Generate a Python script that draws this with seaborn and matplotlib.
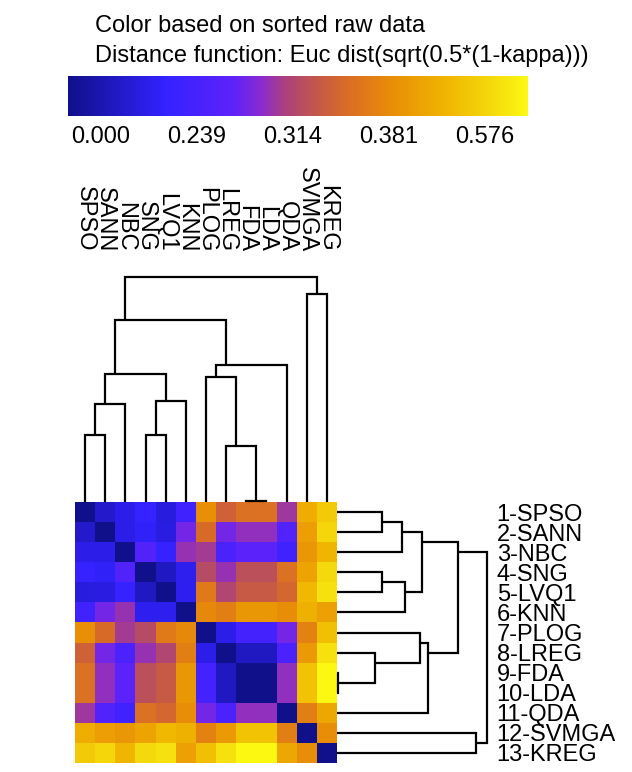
import numpy as np
import pandas as pd
import matplotlib
matplotlib.use("Agg")
import matplotlib.pyplot as plt
import seaborn as sns
from matplotlib.colors import LinearSegmentedColormap, FuncNorm, Normalize
from matplotlib.cm import ScalarMappable

# ---------------- data ----------------
models = ["SPSO", "SANN", "NBC", "SNG", "LVQ1", "KNN", "PLOG", "LREG",
          "FDA", "LDA", "QDA", "SVMGA", "KREG"]
row_labels = [f"{i + 1}-{m}" for i, m in enumerate(models)]

dist_spso = [0.000, 0.115, 0.163, 0.210, 0.143, 0.239, 0.370, 0.333, 0.346, 0.346, 0.299, 0.420, 0.482]
dist_sann = [0.115, 0.000, 0.163, 0.191, 0.153, 0.281, 0.341, 0.281, 0.293, 0.293, 0.260, 0.381, 0.506]
dist_nbc = [0.163, 0.163, 0.000, 0.260, 0.210, 0.296, 0.302, 0.254, 0.269, 0.269, 0.239, 0.376, 0.436]
dist_sng = [0.210, 0.191, 0.260, 0.000, 0.096, 0.172, 0.314, 0.296, 0.319, 0.319, 0.346, 0.397, 0.514]
dist_lvq1 = [0.143, 0.153, 0.210, 0.096, 0.000, 0.172, 0.352, 0.311, 0.327, 0.327, 0.338, 0.443, 0.529]
dist_knn = [0.239, 0.281, 0.296, 0.172, 0.172, 0.000, 0.365, 0.357, 0.376, 0.376, 0.368, 0.428, 0.389]
dist_plog = [0.370, 0.341, 0.302, 0.314, 0.352, 0.365, 0.000, 0.163, 0.245, 0.245, 0.281, 0.360, 0.459]
dist_lreg = [0.333, 0.281, 0.254, 0.296, 0.311, 0.357, 0.163, 0.000, 0.096, 0.096, 0.254, 0.378, 0.529]
dist_fda = [0.346, 0.293, 0.269, 0.319, 0.327, 0.376, 0.245, 0.096, 0.000, 0.000, 0.293, 0.467, 0.576]
dist_lda = [0.346, 0.293, 0.269, 0.319, 0.327, 0.376, 0.245, 0.096, 0.000, 0.000, 0.293, 0.467, 0.576]
dist_qda = [0.299, 0.260, 0.239, 0.346, 0.338, 0.368, 0.281, 0.254, 0.293, 0.293, 0.000, 0.357, 0.404]
dist_svmga = [0.420, 0.381, 0.376, 0.397, 0.443, 0.428, 0.360, 0.378, 0.467, 0.467, 0.357, 0.000, 0.368]
dist_kreg = [0.482, 0.506, 0.436, 0.514, 0.529, 0.389, 0.459, 0.529, 0.576, 0.576, 0.404, 0.368, 0.000]

# quantiles of the sorted raw data (colour scale is rank based)
cbar_values = [0.000, 0.239, 0.314, 0.381, 0.576]
cbar_labels = ["0.000", "0.239", "0.314", "0.381", "0.576"]

# hierarchical clustering merges: (child_a, child_b, height)
# indices < 13 are leaves, index 13 + k is the k-th merge
merges = [
    (8, 9, 0.005),    # 13 FDA + LDA
    (0, 1, 0.300),    # 14 SPSO + SANN
    (3, 4, 0.300),    # 15 SNG + LVQ1
    (7, 13, 0.250),   # 16 LREG + (FDA, LDA)
    (14, 2, 0.435),   # 17 + NBC
    (15, 5, 0.450),   # 18 + KNN
    (6, 16, 0.555),   # 19 PLOG + ...
    (17, 18, 0.570),  # 20
    (19, 10, 0.610),  # 21 + QDA
    (20, 21, 0.810),  # 22
    (11, 12, 0.925),  # 23 SVMGA + KREG
    (22, 23, 1.000),  # 24 root
]

title_lines = ["Color based on sorted raw data",
               "Distance function: Euc dist(sqrt(0.5*(1-kappa)))"]

# ---------------- style ----------------
W, H = 632, 772
sns.set_theme(style="white", rc={"text.color": "black", "xtick.color": "black",
                                 "ytick.color": "black", "axes.labelcolor": "black"})
plt.rcParams["font.family"] = ["Liberation Sans", "DejaVu Sans"]
FS = 17

fig = plt.figure(figsize=(W / 100, H / 100), dpi=100)
fig.patch.set_facecolor("white")


def box(l, t, r, b):
    return [l / W, 1 - b / H, (r - l) / W, (b - t) / H]


cmap = LinearSegmentedColormap.from_list("kappa", [
    (0.00, "#10108a"),
    (0.21, "#3322ff"),
    (0.36, "#5e22fa"),
    (0.42, "#8a2ad0"),
    (0.47, "#aa4080"),
    (0.53, "#c05450"),
    (0.60, "#d86a28"),
    (0.70, "#e88c08"),
    (0.82, "#f0b400"),
    (0.92, "#f4d80c"),
    (1.00, "#fcf812"),
])

ranks = [0.0, 0.25, 0.5, 0.75, 1.0]
norm = FuncNorm((lambda v: np.interp(v, cbar_values, ranks),
                 lambda t: np.interp(t, ranks, cbar_values)),
                vmin=cbar_values[0], vmax=cbar_values[-1])

# ---------------- heatmap ----------------
dist = [dist_spso, dist_sann, dist_nbc, dist_sng, dist_lvq1, dist_knn, dist_plog,
        dist_lreg, dist_fda, dist_lda, dist_qda, dist_svmga, dist_kreg]
df = pd.DataFrame(dist, index=row_labels, columns=models)

ax_hm = fig.add_axes(box(75, 502, 337, 763))
sns.heatmap(df, ax=ax_hm, cmap=cmap, norm=norm, cbar=False,
            xticklabels=False, yticklabels=False)
ax_hm.set_xlabel("")
ax_hm.set_ylabel("")

# ---------------- dendrograms ----------------
n = len(models)
pos = {i: i + 0.5 for i in range(n)}
hgt = {i: 0.0 for i in range(n)}
segments = []
for k, (a, b, h) in enumerate(merges):
    node = n + k
    pa, pb = pos[a], pos[b]
    segments.append(([pa, pa, pb, pb], [hgt[a], h, h, hgt[b]]))
    pos[node] = min(pa, pb) + 0.5
    hgt[node] = h

LW = 1.6
ax_td = fig.add_axes(box(75, 277, 337, 502))
for xs, ys in segments:
    ax_td.plot(xs, ys, color="black", lw=LW, clip_on=False,
               solid_joinstyle="miter", solid_capstyle="butt")
ax_td.set_xlim(0, n)
ax_td.set_ylim(0, 1)
ax_td.xaxis.tick_top()
ax_td.set_xticks(np.arange(n) + 0.5)
ax_td.set_xticklabels(models, rotation=270, fontsize=FS, color="black")
ax_td.tick_params(axis="x", length=0, pad=18)
ax_td.set_yticks([])
for s in ax_td.spines.values():
    s.set_visible(False)
ax_td.patch.set_alpha(0)

ax_rd = fig.add_axes(box(337, 502, 487, 763))
for xs, ys in segments:
    ax_rd.plot(ys, xs, color="black", lw=LW, clip_on=False,
               solid_joinstyle="miter", solid_capstyle="butt")
ax_rd.set_xlim(0, 1)
ax_rd.set_ylim(n, 0)
ax_rd.yaxis.tick_right()
ax_rd.set_yticks(np.arange(n) + 0.5)
ax_rd.set_yticklabels(row_labels, fontsize=FS, color="black")
ax_rd.tick_params(axis="y", length=0, pad=7)
ax_rd.set_xticks([])
for s in ax_rd.spines.values():
    s.set_visible(False)
ax_rd.patch.set_alpha(0)

# ---------------- colour key ----------------
ax_cb = fig.add_axes(box(68, 76, 528, 116))
cb = fig.colorbar(ScalarMappable(norm=Normalize(0, 1), cmap=cmap),
                  cax=ax_cb, orientation="horizontal")
cbar_tick_pos = [0.070, 0.280, 0.489, 0.698, 0.907]
cb.set_ticks(cbar_tick_pos, labels=cbar_labels)
cb.ax.tick_params(length=0, pad=7, labelsize=FS, labelcolor="black")
cb.outline.set_visible(False)

fig.text(95 / W, 1 - 32 / H, title_lines[0], fontsize=FS, va="baseline", ha="left",
         color="black")
fig.text(95 / W, 1 - 62 / H, title_lines[1], fontsize=FS, va="baseline", ha="left",
         color="black")

fig.savefig("out.png", dpi=100, facecolor="white")
